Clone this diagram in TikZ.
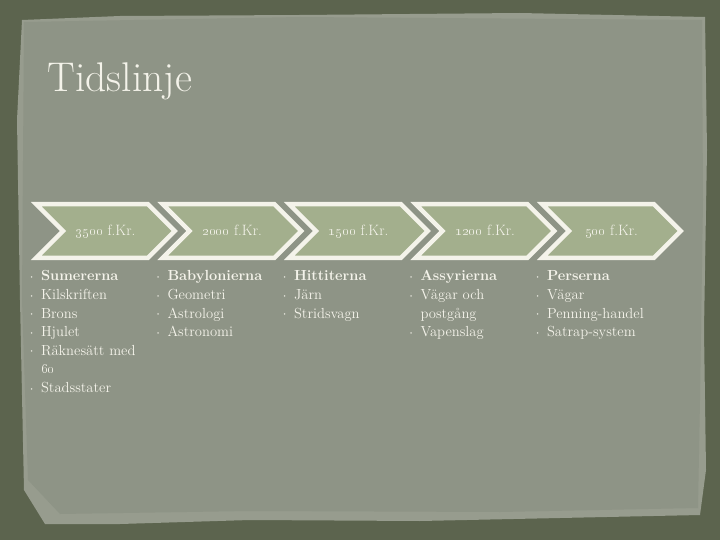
\documentclass[tikz,border=0pt]{standalone}
\usetikzlibrary{positioning,shapes.symbols}
\definecolor{mossdark}{HTML}{5C644E}
\definecolor{paper}{HTML}{8E9486}
\definecolor{paperedge}{HTML}{979C8E}
\definecolor{sage}{HTML}{A3AF8D}
\definecolor{chalk}{HTML}{F4F3EA}
\tikzstyle{chevron}=[signal,signal from=west,signal to=east,signal pointer angle=90,draw=chalk,line width=4.5pt,fill=sage,minimum width=138.5pt,minimum height=53.5pt,inner sep=0pt,text height=10pt,text depth=0pt,text=chalk,font=\fontsize{15}{16}\selectfont]
\tikzstyle{list}=[anchor=north west,text width=130pt,align=left,inner sep=0pt,text=chalk,font=\fontsize{14.6}{18.6}\selectfont]
\newcommand{\itm}[1]{\par\hangindent=13pt\hangafter=1\noindent\makebox[13pt][l]{\hspace{1pt}\raisebox{.35ex}{\tiny\textbullet}}#1}
\newcommand{\yr}[1]{\oldstylenums{#1}~f.Kr.}

\begin{document}
\begin{tikzpicture}[x=1pt,y=-1pt]
		\useasboundingbox (0,0) rectangle (720,540);
		\fill[mossdark] (0,0) rectangle (720,540);
		% torn paper
		\fill[paperedge] (22,20) -- (120,16) -- (300,15) -- (520,13) -- (705,17) -- (707,150) -- (704,330) -- (706,470) -- (700,515) -- (560,518) -- (420,521) -- (250,520) -- (120,524) -- (45,524) -- (24,490) -- (20,300) -- (17,120) -- cycle;
		\fill[paper] (24,22) -- (300,17) -- (702,20) -- (703,200) -- (700,400) -- (698,508) -- (500,512) -- (250,511) -- (60,514) -- (28,480) -- (22,300) -- cycle;

		\node(title)[anchor=base west,text=chalk,font=\fontsize{41.5}{44}\selectfont] at (44,92) {Tidslinje};

		% the five periods
		\node(c1)[chevron] at (105.5,231) {\yr{3500}};
		\node(c2)[chevron] at ([xshift=126.5pt]c1) {\yr{2000}};
		\node(c3)[chevron] at ([xshift=126.5pt]c2) {\yr{1500}};
		\node(c4)[chevron] at ([xshift=126.5pt]c3) {\yr{1200}};
		\node(c5)[chevron] at ([xshift=126.5pt]c4) {\yr{500}};

		\node(l1)[list] at ([xshift=-3pt,yshift=-2pt]c1.south west) {
			\itm{\textbf{Sumererna}}
			\itm{Kilskriften}
			\itm{Brons}
			\itm{Hjulet}
			\itm{Räknesätt med\hfil\break \oldstylenums{60}}
			\itm{Stadsstater}};
		\node(l2)[list] at ([xshift=-3pt,yshift=-2pt]c2.south west) {
			\itm{\textbf{Babylonierna}}
			\itm{Geometri}
			\itm{Astrologi}
			\itm{Astronomi}};
		\node(l3)[list] at ([xshift=-3pt,yshift=-2pt]c3.south west) {
			\itm{\textbf{Hittiterna}}
			\itm{Järn}
			\itm{Stridsvagn}};
		\node(l4)[list] at ([xshift=-3pt,yshift=-2pt]c4.south west) {
			\itm{\textbf{Assyrierna}}
			\itm{Vägar och\hfil\break postgång}
			\itm{Vapenslag}};
		\node(l5)[list] at ([xshift=-3pt,yshift=-2pt]c5.south west) {
			\itm{\textbf{Perserna}}
			\itm{Vägar}
			\itm{Penning-handel}
			\itm{Satrap-system}};

\end{tikzpicture}
\end{document}
